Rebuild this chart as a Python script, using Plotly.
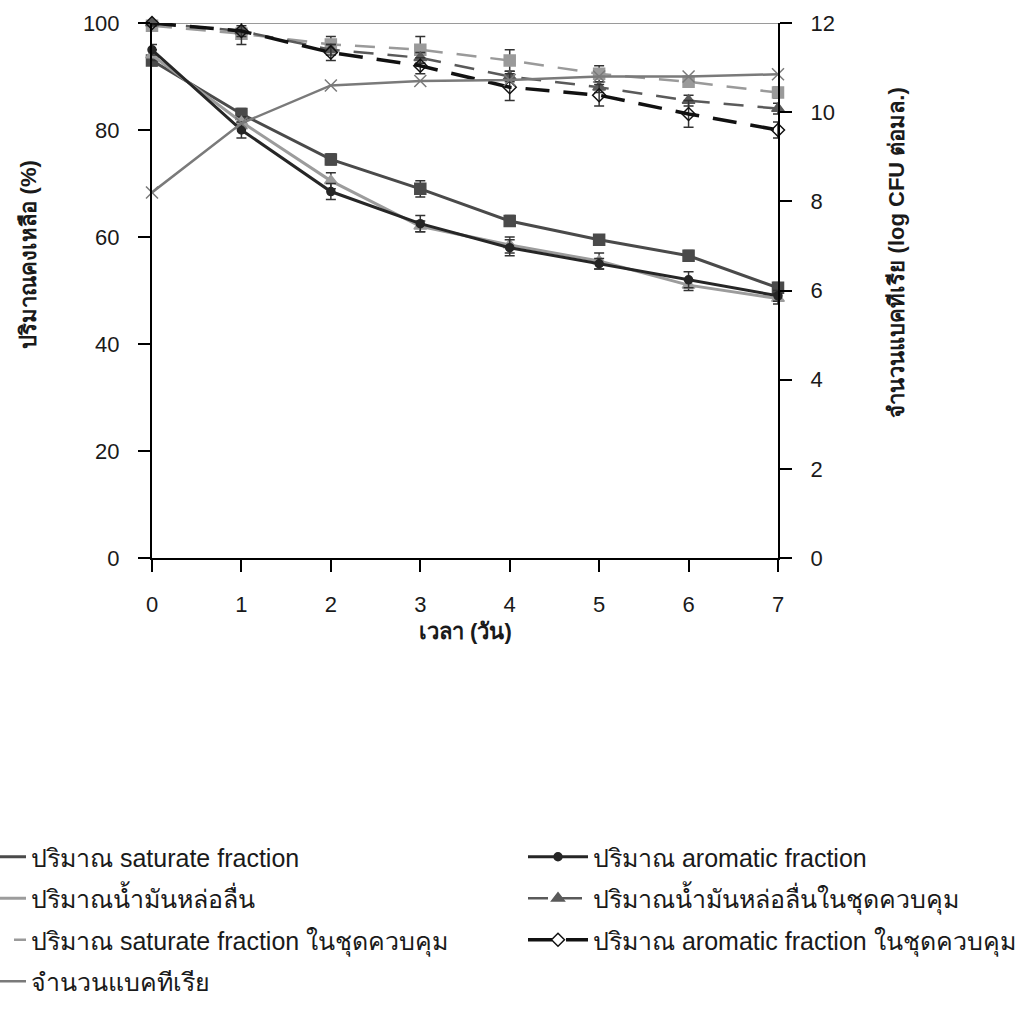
import plotly.graph_objects as go

days = [0, 1, 2, 3, 4, 5, 6, 7]
x_ticks = ["0", "1", "2", "3", "4", "5", "6", "7"]
y_ticks = [0, 20, 40, 60, 80, 100]
y2_ticks = [0, 2, 4, 6, 8, 10, 12]

saturate = [93, 83, 74.5, 69, 63, 59.5, 56.5, 50.5]
saturate_err = [1, 1, 1, 1.5, 1, 0.5, 1, 1]
aromatic = [95, 80, 68.5, 62.5, 58, 55, 52, 49]
aromatic_err = [1, 1.5, 1.5, 1.5, 1.5, 1, 1.5, 1]
lubricant = [94, 81.5, 70.5, 62, 58.5, 55.5, 51, 48.5]
lubricant_err = [1, 1, 1.5, 1, 1.5, 1.5, 1, 1]
sat_ctrl = [99.5, 98, 96, 95, 93, 90.5, 89, 87]
sat_ctrl_err = [0.5, 1, 1.5, 2.5, 2, 1.5, 1, 1]
lub_ctrl = [100, 98.5, 95, 93.5, 90, 88, 85.5, 84]
lub_ctrl_err = [0.5, 1, 1, 1, 1, 1, 1, 1]
arom_ctrl = [100, 98.5, 94.5, 92, 88, 86.5, 83, 80]
arom_ctrl_err = [0.5, 2.5, 1.5, 1.5, 2.5, 2, 2.5, 1.5]
bacteria = [8.2, 9.75, 10.6, 10.7, 10.72, 10.8, 10.8, 10.85]

names = [
    "ปริมาณ saturate fraction",
    "ปริมาณน้ำมันหล่อลื่น",
    "ปริมาณ saturate fraction ในชุดควบคุม",
    "จำนวนแบคทีเรีย",
    "ปริมาณ aromatic fraction",
    "ปริมาณน้ำมันหล่อลื่นในชุดควบคุม",
    "ปริมาณ aromatic fraction ในชุดควบคุม",
]

FONT = "Liberation Sans, Arial, Noto Sans, DejaVu Sans, sans-serif"

fig = go.Figure()

def add(y, err, name, color, symbol, msize, dash, lw, legend, yaxis="y"):
    fig.add_trace(go.Scatter(
        x=days, y=y, name=name, mode="lines+markers", yaxis=yaxis,
        legend=legend, legendgroup=name,
        line=dict(color=color, width=lw, dash=dash),
        marker=dict(symbol=symbol, size=msize, color=color,
                    line=dict(color=color, width=1.5)),
        error_y=dict(type="data", array=err, visible=err is not None,
                     color="#333333", thickness=1.5, width=5),
        cliponaxis=False,
    ))

add(saturate, saturate_err, names[0], "#4a4a4a", "square", 11, "solid", 3, "legend")
add(lubricant, lubricant_err, names[1], "#9c9c9c", "triangle-up", 11, "solid", 3, "legend")
add(sat_ctrl, sat_ctrl_err, names[2], "#9a9a9a", "square", 11, "20px,14px", 2.5, "legend")
add(bacteria, None, names[3], "#7a7a7a", "x-thin-open", 12, "solid", 2.5, "legend", yaxis="y2")
add(aromatic, aromatic_err, names[4], "#262626", "circle", 8, "solid", 3, "legend2")
add(lub_ctrl, lub_ctrl_err, names[5], "#5a5a5a", "triangle-up", 11, "20px,14px", 2.5, "legend2")
add(arom_ctrl, arom_ctrl_err, names[6], "#111111", "diamond-open", 10, "24px,14px", 3.5, "legend2")

fig.add_shape(type="line", xref="x domain", yref="y", x0=0, x1=1, y0=100, y1=100,
              line=dict(color="#9a9a9a", width=2), layer="below")

axis_common = dict(showline=True, linecolor="black", linewidth=2, ticks="outside",
                   ticklen=12, tickwidth=2, tickcolor="black", showgrid=False,
                   zeroline=False, tickfont=dict(family=FONT, size=22, color="#1a1a1a"))

leg_common = dict(orientation="v", yanchor="top", xanchor="left",
                  font=dict(family=FONT, size=25, color="#1a1a1a"), tracegroupgap=6,
                  bgcolor="rgba(0,0,0,0)")

fig.update_layout(
    width=1027, height=1016,
    margin=dict(l=152, r=249, t=23, b=458, autoexpand=False),
    paper_bgcolor="white", plot_bgcolor="white",
    font=dict(family=FONT, size=22, color="#1a1a1a"),
    xaxis=dict(range=[0, 7], tickvals=days, ticktext=x_ticks, ticklabelstandoff=14, **axis_common),
    yaxis=dict(range=[0, 100], tickvals=y_ticks, ticklabelstandoff=14, **axis_common),
    yaxis2=dict(range=[0, 12], tickvals=y2_ticks, overlaying="y", side="right",
                ticklabelstandoff=14, **axis_common),
    legend=dict(x=(-59 - 152) / 626, y=(558 - 834) / 535, itemwidth=80, **leg_common),
    legend2=dict(x=(523 - 152) / 626, y=(558 - 834) / 535, itemwidth=60, **leg_common),
    showlegend=True,
)

fig.add_annotation(text="<b>ปริมาณคงเหลือ (%)</b>", xref="paper", yref="paper",
                   x=(13 - 152) / 626, y=(558 - 255) / 535, textangle=-90, showarrow=False,
                   font=dict(family=FONT, size=22, color="#1a1a1a"))
fig.add_annotation(text="<b>จำนวนแบคทีเรีย (log CFU ต่อมล.)</b>", xref="paper", yref="paper",
                   x=(910 - 152) / 626, y=(558 - 253) / 535, textangle=-90, showarrow=False,
                   font=dict(family=FONT, size=22, color="#1a1a1a"))
fig.add_annotation(text="<b>เวลา (วัน)</b>", xref="paper", yref="paper",
                   x=(465 - 152) / 626, y=(558 - 646) / 535, showarrow=False,
                   font=dict(family=FONT, size=22, color="#1a1a1a"))

fig.write_html("out.html")
